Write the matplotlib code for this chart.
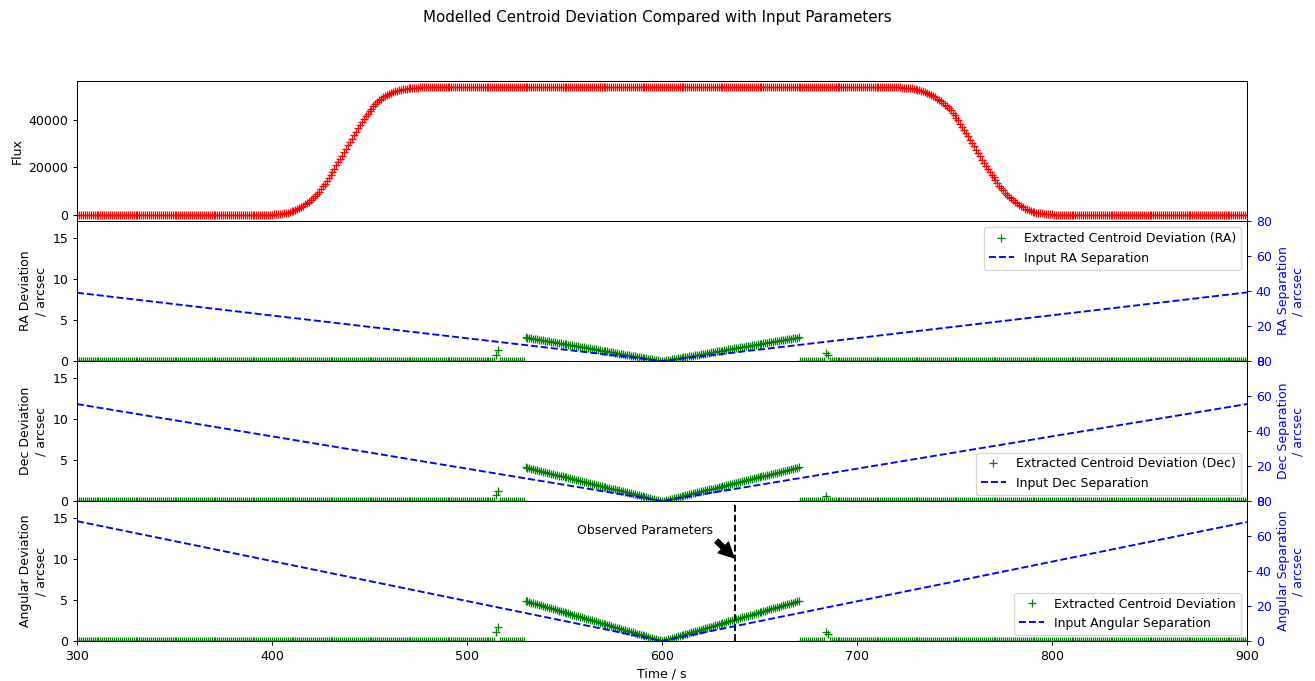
import numpy as np
import matplotlib
matplotlib.use("Agg")
import matplotlib.pyplot as plt

# ---------------- data ----------------
time = np.arange(300, 901, 1)          # sample times / s

flux_plateau = 54000
flux_rise_start = 400
flux_rise = [0, 70, 150, 250, 350, 450, 550, 720, 900, 1150,
             1400, 1720, 2050, 2450, 2850, 3320, 3800, 4320, 4850, 5420,
             6000, 6850, 7700, 8750, 9800, 10900, 12000, 13200, 14400, 15650,
             16900, 18200, 19500, 20850, 22200, 23600, 25000, 26450, 27900, 29350,
             30800, 32300, 33800, 35250, 36700, 38000, 39300, 40550, 41800, 42900,
             44000, 44950, 45900, 46800, 47700, 48450, 49200, 49800, 50400, 50850,
             51300, 51650, 52000, 52300, 52600, 52800, 53000, 53150, 53300, 53430,
             53550, 53650, 53750, 53800, 53850, 53900, 53950, 53980, 54000]
flux_fall_start = 720
flux_fall = [54000, 53980, 53950, 53900, 53850, 53800, 53750, 53650, 53550, 53400,
             53250, 53050, 52850, 52550, 52250, 51900, 51550, 51150, 50700, 50200,
             49700, 49200, 48700, 48050, 47400, 46650, 45900, 45100, 44300, 43300,
             42300, 41150, 40000, 38650, 37300, 35950, 34600, 33200, 31800, 30400,
             29000, 27550, 26100, 24700, 23300, 22000, 20700, 19400, 18100, 16950,
             15800, 14600, 13400, 12350, 11300, 10300, 9300, 8450, 7600, 6850,
             6100, 5450, 4800, 4200, 3600, 3100, 2600, 2250, 1900, 1600,
             1300, 1100, 900, 750, 600, 500, 400, 300, 200, 150,
             100, 50, 0]

ramp_start = 530   # the deviation ramps cover 530..670 s
ra_dev_ramp = [2.90, 2.86, 2.82, 2.78, 2.73, 2.69, 2.65, 2.61, 2.57, 2.53,
               2.49, 2.44, 2.40, 2.36, 2.32, 2.28, 2.24, 2.20, 2.15, 2.11,
               2.07, 2.03, 1.99, 1.95, 1.91, 1.86, 1.82, 1.78, 1.74, 1.70,
               1.66, 1.62, 1.57, 1.53, 1.49, 1.45, 1.41, 1.37, 1.33, 1.28,
               1.24, 1.20, 1.16, 1.12, 1.08, 1.04, 0.99, 0.95, 0.91, 0.87,
               0.83, 0.79, 0.75, 0.70, 0.66, 0.62, 0.58, 0.54, 0.50, 0.46,
               0.41, 0.37, 0.33, 0.29, 0.25, 0.21, 0.17, 0.12, 0.08, 0.04,
               0.00,
               0.04, 0.08, 0.12, 0.17, 0.21, 0.25, 0.29, 0.33, 0.37, 0.41,
               0.46, 0.50, 0.54, 0.58, 0.62, 0.66, 0.70, 0.75, 0.79, 0.83,
               0.87, 0.91, 0.95, 0.99, 1.04, 1.08, 1.12, 1.16, 1.20, 1.24,
               1.28, 1.33, 1.37, 1.41, 1.45, 1.49, 1.53, 1.57, 1.62, 1.66,
               1.70, 1.74, 1.78, 1.82, 1.86, 1.91, 1.95, 1.99, 2.03, 2.07,
               2.11, 2.15, 2.20, 2.24, 2.28, 2.32, 2.36, 2.40, 2.44, 2.49,
               2.53, 2.57, 2.61, 2.65, 2.69, 2.73, 2.78, 2.82, 2.86, 2.90]
dec_dev_ramp = [4.10, 4.04, 3.98, 3.92, 3.87, 3.81, 3.75, 3.69, 3.63, 3.57,
                3.51, 3.46, 3.40, 3.34, 3.28, 3.22, 3.16, 3.10, 3.05, 2.99,
                2.93, 2.87, 2.81, 2.75, 2.69, 2.64, 2.58, 2.52, 2.46, 2.40,
                2.34, 2.28, 2.23, 2.17, 2.11, 2.05, 1.99, 1.93, 1.87, 1.82,
                1.76, 1.70, 1.64, 1.58, 1.52, 1.46, 1.41, 1.35, 1.29, 1.23,
                1.17, 1.11, 1.05, 1.00, 0.94, 0.88, 0.82, 0.76, 0.70, 0.64,
                0.59, 0.53, 0.47, 0.41, 0.35, 0.29, 0.23, 0.18, 0.12, 0.06,
                0.00,
                0.06, 0.12, 0.18, 0.23, 0.29, 0.35, 0.41, 0.47, 0.53, 0.59,
                0.64, 0.70, 0.76, 0.82, 0.88, 0.94, 1.00, 1.05, 1.11, 1.17,
                1.23, 1.29, 1.35, 1.41, 1.46, 1.52, 1.58, 1.64, 1.70, 1.76,
                1.82, 1.87, 1.93, 1.99, 2.05, 2.11, 2.17, 2.23, 2.28, 2.34,
                2.40, 2.46, 2.52, 2.58, 2.64, 2.69, 2.75, 2.81, 2.87, 2.93,
                2.99, 3.05, 3.10, 3.16, 3.22, 3.28, 3.34, 3.40, 3.46, 3.51,
                3.57, 3.63, 3.69, 3.75, 3.81, 3.87, 3.92, 3.98, 4.04, 4.10]
ang_dev_ramp = [4.90, 4.83, 4.76, 4.69, 4.62, 4.55, 4.48, 4.41, 4.34, 4.27,
                4.20, 4.13, 4.06, 3.99, 3.92, 3.85, 3.78, 3.71, 3.64, 3.57,
                3.50, 3.43, 3.36, 3.29, 3.22, 3.15, 3.08, 3.01, 2.94, 2.87,
                2.80, 2.73, 2.66, 2.59, 2.52, 2.45, 2.38, 2.31, 2.24, 2.17,
                2.10, 2.03, 1.96, 1.89, 1.82, 1.75, 1.68, 1.61, 1.54, 1.47,
                1.40, 1.33, 1.26, 1.19, 1.12, 1.05, 0.98, 0.91, 0.84, 0.77,
                0.70, 0.63, 0.56, 0.49, 0.42, 0.35, 0.28, 0.21, 0.14, 0.07,
                0.00,
                0.07, 0.14, 0.21, 0.28, 0.35, 0.42, 0.49, 0.56, 0.63, 0.70,
                0.77, 0.84, 0.91, 0.98, 1.05, 1.12, 1.19, 1.26, 1.33, 1.40,
                1.47, 1.54, 1.61, 1.68, 1.75, 1.82, 1.89, 1.96, 2.03, 2.10,
                2.17, 2.24, 2.31, 2.38, 2.45, 2.52, 2.59, 2.66, 2.73, 2.80,
                2.87, 2.94, 3.01, 3.08, 3.15, 3.22, 3.29, 3.36, 3.43, 3.50,
                3.57, 3.64, 3.71, 3.78, 3.85, 3.92, 3.99, 4.06, 4.13, 4.20,
                4.27, 4.34, 4.41, 4.48, 4.55, 4.62, 4.69, 4.76, 4.83, 4.90]

ra_spike_t = [515, 516, 684, 685]
ra_spike_v = [0.7, 1.3, 1.0, 0.7]
dec_spike_t = [515, 516, 684]
dec_spike_v = [0.7, 1.2, 0.6]
ang_spike_t = [515, 516, 684, 685]
ang_spike_v = [1.1, 1.7, 1.1, 0.8]

sep_t = [300, 600, 900]
ra_sep = [39.0, 0.0, 39.2]
dec_sep = [55.4, 0.0, 55.4]
ang_sep = [68.5, 0.0, 68.0]

observed_t = 637.5

# ---------------- build series ----------------
def idx(t):
    return int(np.searchsorted(time, t))

flux = np.zeros(len(time))
flux[idx(flux_rise_start):idx(flux_fall_start) + 1] = flux_plateau
flux[idx(flux_rise_start):idx(flux_rise_start) + len(flux_rise)] = flux_rise
flux[idx(flux_fall_start):idx(flux_fall_start) + len(flux_fall)] = flux_fall

def build_dev(ramp, st, sv):
    d = np.zeros(len(time))
    d[idx(ramp_start):idx(ramp_start) + len(ramp)] = ramp
    for t, v in zip(st, sv):
        d[idx(t)] = v
    return d

ra_dev = build_dev(ra_dev_ramp, ra_spike_t, ra_spike_v)
dec_dev = build_dev(dec_dev_ramp, dec_spike_t, dec_spike_v)
ang_dev = build_dev(ang_dev_ramp, ang_spike_t, ang_spike_v)

# ---------------- plot ----------------
plt.rcParams['font.family'] = ['DejaVu Sans']
plt.rcParams['font.size'] = 10

fig, axes = plt.subplots(4, 1, sharex=True, figsize=(1315 / 90, 681 / 90), dpi=90)
fig.subplots_adjust(left=77 / 1315, right=1247 / 1315, top=1 - 81 / 681,
                    bottom=1 - 641 / 681, hspace=0)
fig.suptitle("Modelled Centroid Deviation Compared with Input Parameters",
             fontsize=12, y=0.985)

ax0 = axes[0]
ax0.plot(time, flux, 'r+')
ax0.set_ylabel("Flux")
ax0.set_yticks([0, 20000, 40000])
ax0.set_xlim(300, 900)

panels = [
    (axes[1], ra_dev, ra_sep, "Extracted Centroid Deviation (RA)", "Input RA Separation",
     "RA Deviation\n/ arcsec", "RA Separation\n/ arcsec", "upper right"),
    (axes[2], dec_dev, dec_sep, "Extracted Centroid Deviation (Dec)", "Input Dec Separation",
     "Dec Deviation\n/ arcsec", "Dec Separation\n/ arcsec", "lower right"),
    (axes[3], ang_dev, ang_sep, "Extracted Centroid Deviation", "Input Angular Separation",
     "Angular Deviation\n/ arcsec", "Angular Separation\n/ arcsec", "lower right"),
]

for ax, dev, sep, dlab, slab, ylab, ylab2, loc in panels:
    h1, = ax.plot(time, dev, 'g+', label=dlab)
    ax.set_ylim(0, 17.07)
    ax.set_yticks([0, 5, 10, 15])
    ax.set_ylabel(ylab)
    axt = ax.twinx()
    h2, = axt.plot(sep_t, sep, 'b--', label=slab)
    axt.set_ylim(0, 80)
    axt.set_yticks([0, 20, 40, 60, 80])
    axt.tick_params(axis='y', colors='b')
    axt.set_ylabel(ylab2, color='b')
    axt.legend(handles=[h1, h2], loc=loc)
    if ax is axes[3]:
        ax.axvline(observed_t, color='k', linestyle='--')
        ax.annotate("Observed Parameters", xy=(observed_t, 10.0), xytext=(556.4, 13.0),
                    arrowprops=dict(facecolor='black', shrink=0.05))

axes[3].set_xlabel("Time / s")
axes[3].set_xticks([300, 400, 500, 600, 700, 800, 900])
axes[3].set_xlim(300, 900)

fig.savefig("out.png", dpi=90)
